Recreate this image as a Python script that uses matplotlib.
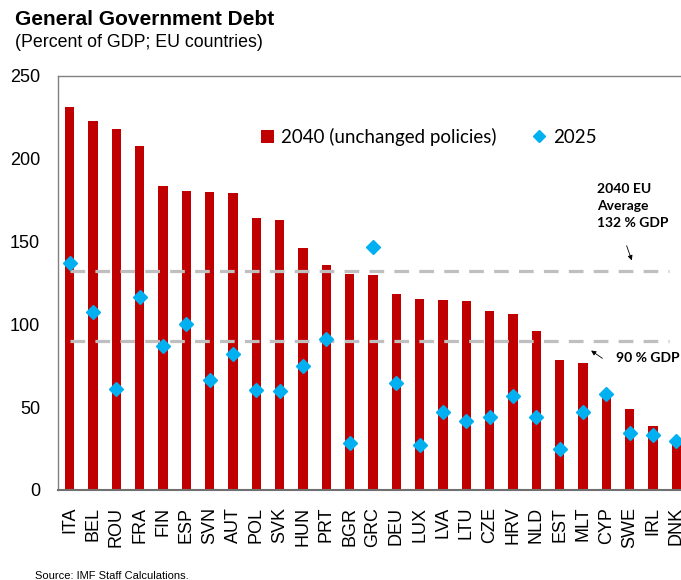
import matplotlib
matplotlib.use('Agg')
import matplotlib.pyplot as plt
from matplotlib.patches import Patch
from matplotlib.lines import Line2D

countries = ['ITA', 'BEL', 'ROU', 'FRA', 'FIN', 'ESP', 'SVN', 'AUT', 'POL', 'SVK',
             'HUN', 'PRT', 'BGR', 'GRC', 'DEU', 'LUX', 'LVA', 'LTU', 'CZE', 'HRV',
             'NLD', 'EST', 'MLT', 'CYP', 'SWE', 'IRL', 'DNK']
debt_2040 = [231.1, 222.6, 217.8, 207.3, 183.4, 180.6, 179.8, 179.2, 164.1, 163.1,
             145.8, 135.9, 130.5, 129.9, 118.4, 115.2, 114.6, 114.2, 108.2, 106.0,
             95.9, 78.6, 76.8, 58.0, 49.1, 38.6, 30.0]
debt_2025 = [136.7, 107.4, 61.1, 116.4, 86.7, 100.3, 66.6, 82.0, 60.1, 59.5,
             74.6, 90.9, 28.2, 146.4, 64.4, 27.1, 47.1, 41.8, 44.0, 56.9,
             44.0, 24.5, 46.9, 57.7, 34.2, 33.0, 29.6]
eu_avg = 132
threshold = 90

red = '#C00000'
blue = '#00B0F0'
grey = '#BFBFBF'

fig = plt.figure(figsize=(6.81, 5.8), dpi=100)
ax = fig.add_axes([58 / 681, 90 / 580, 630 / 681, 414.3 / 580])

x = list(range(len(countries)))
ax.bar(x, debt_2040, width=0.4, color=red, zorder=2)
ax.plot(x, debt_2025, linestyle='none', marker='D', ms=7.6, color=blue, zorder=4)

# reference lines: EU average and 90 % threshold
for level in (eu_avg, threshold):
    ax.plot([0, 25.7], [level, level], color=grey, lw=2.3,
            dashes=(4.6, 3.2), zorder=3, solid_capstyle='butt')

ax.set_xlim(-0.5, 26.5)
ax.set_ylim(0, 250)
ax.set_yticks([0, 50, 100, 150, 200, 250])
ax.set_xticks(x)
ax.set_xticklabels(countries, rotation=90, fontsize=13, family='Liberation Sans')
ax.tick_params(axis='x', length=0, pad=12)
ax.tick_params(axis='y', length=0, pad=13, labelsize=13)
for lab in ax.get_yticklabels():
    lab.set_family('Liberation Sans')

for side in ('top', 'left'):
    ax.spines[side].set_color('#808080')
    ax.spines[side].set_linewidth(1.0)
ax.spines['bottom'].set_color('#707070')
ax.spines['bottom'].set_linewidth(1.5)
ax.spines['right'].set_visible(False)

handles = [Patch(facecolor=red, edgecolor='none'),
           Line2D([], [], linestyle='none', marker='D', ms=6, color=blue)]
ax.legend(handles, ['2040 (unchanged policies)', '2025'], ncol=2, frameon=False,
          loc='center left', bbox_to_anchor=(0.295, 0.852), handlelength=0.7,
          handleheight=0.7, handletextpad=0.4, columnspacing=1.9,
          prop={'family': 'Lato', 'size': 13.5})

ax.text(22.59, 185, '2040 EU\nAverage\n132 % GDP', fontsize=10, fontweight='bold',
        family='Lato', va='top', ha='left', linespacing=1.5)
ax.annotate('', xy=(24.13, 137), xytext=(23.83, 149),
            arrowprops=dict(arrowstyle='-|>', lw=0.6, color='black', mutation_scale=7))
ax.text(23.4, 79.5, '90 % GDP', fontsize=10, fontweight='bold', family='Lato',
        va='center', ha='left')
ax.annotate('', xy=(22.25, 85.1), xytext=(22.93, 78.5),
            arrowprops=dict(arrowstyle='-|>', lw=0.6, color='black', mutation_scale=7))

fig.text(15 / 681, 1 - 25 / 580, 'General Government Debt', fontsize=15,
         fontweight='bold', family='Liberation Sans', va='baseline')
fig.text(15 / 681, 1 - 47 / 580, '(Percent of GDP; EU countries)', fontsize=12.8,
         family='Liberation Sans', va='baseline')
fig.text(35 / 681, 1 - 579 / 580, 'Source: IMF Staff Calculations.', fontsize=8,
         family=['Liberation Sans Narrow', 'Liberation Sans'], va='baseline')

fig.savefig('out.png', dpi=100)
